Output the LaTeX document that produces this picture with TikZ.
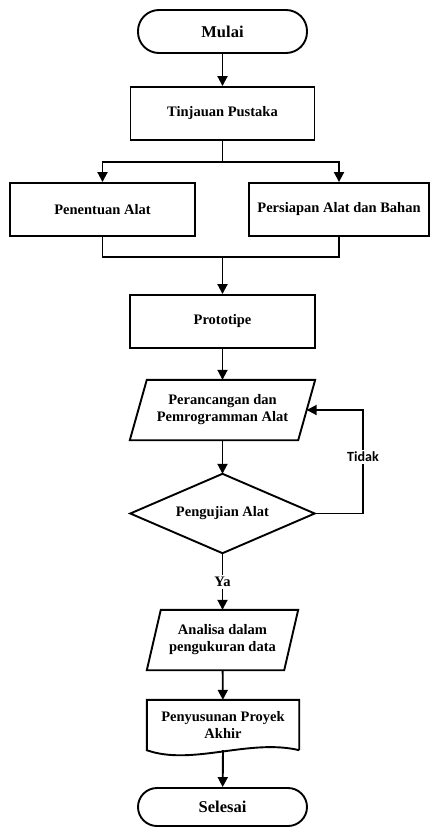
\documentclass[tikz,border=0pt]{standalone}
\usepackage{fontspec}
\setmainfont{Liberation Serif}
\newfontfamily\tidakfont{Carlito}
\usetikzlibrary{arrows.meta,calc}
\begin{document}
\begin{tikzpicture}[x=1pt,y=-1pt,
  every node/.style={font=\bfseries\fontsize{14.5}{17}\selectfont, align=center, inner sep=0pt},
  line/.style={line width=1.9pt},
  arr/.style={line width=1.9pt, -{Triangle[length=10pt,width=10pt]}},
  box/.style={draw, line width=1.9pt, minimum height=53pt},
  term/.style={draw, line width=1.9pt, minimum width=169pt, font=\bfseries\fontsize{16.5}{19}\selectfont},
  holder/.style={draw=none}
]
\useasboundingbox (0,0) rectangle (431,827);

% nodes
\node[term, minimum height=43pt, rounded corners=21pt] (mulai) at (222.5,31.5) {Mulai};
\node[box, minimum width=184pt] (tinj) at (222.5,113.5) {Tinjauan Pustaka};
\node[box, minimum width=185pt] (pen) at (102.5,209.5) {Penentuan Alat};
\node[box, minimum width=180pt] (pers) at (339,209.5) {Persiapan Alat dan Bahan};
\node[box, minimum width=185pt] (proto) at (222.5,321.5) {Prototipe};

\node[holder, minimum width=185pt, minimum height=60pt] (p1) at (222.5,410) {Perancangan dan\\Pemrogramman Alat};
\draw[line] (p1.south west) -- ($(p1.north west)+(17,0)$) -- (p1.north east) -- ($(p1.south east)+(-17,0)$) -- cycle;

\node[holder, minimum width=184pt, minimum height=79pt] (uji) at (222.5,513.5) {Pengujian Alat};
\draw[line] (uji.north) -- (uji.east) -- (uji.south) -- (uji.west) -- cycle;

\node[holder, minimum width=151pt, minimum height=60pt] (p2) at (222.5,640) {Analisa dalam\\pengukuran data};
\draw[line] (p2.south west) -- ($(p2.north west)+(14,0)$) -- (p2.north east) -- ($(p2.south east)+(-14,0)$) -- cycle;

\node[holder, minimum width=152pt, minimum height=50pt] (doc) at (223,725) {Penyusunan Proyek\\Akhir};
\draw[line] (doc.south east) -- (doc.north east) -- (doc.north west) -- (doc.south west)
  .. controls ($(doc.south west)+(45,16)$) and ($(doc.south east)+(-50,-12)$) .. (doc.south east);

\node[term, minimum height=38pt, rounded corners=19pt] (sel) at (222.5,807) {Selesai};

% connectors
\coordinate (sp) at (222.5,162);
\coordinate (jn) at (222.5,257);
\coordinate (p1r) at ($(p1.east)+(-8.5,0)$);
\coordinate (loop) at (363,513.5);

\draw[arr] (mulai) -- (tinj);
\draw[line] (tinj) -- (sp);
\draw[arr] (sp) -| (pen);
\draw[arr] (sp) -| (pers);
\draw[line] (pen) |- (jn);
\draw[line] (pers) |- (jn);
\draw[arr] (jn) -- (proto);
\draw[arr] (proto) -- (p1);
\draw[arr] (p1) -- (uji);
\draw[arr] (uji.east) -- (loop) |- (p1r);
\draw[arr] (uji) -- (p2);
\draw[arr] (p2) -- (doc);
\draw[arr] (doc.south) -- (sel);

\node[fill=white, inner sep=2pt, font=\tidakfont\bfseries\fontsize{14}{16}\selectfont] (tidak) at (363,457) {Tidak};
\node[fill=white, inner sep=2pt] (ya) at (222.5,582) {Ya};
\end{tikzpicture}
\end{document}
